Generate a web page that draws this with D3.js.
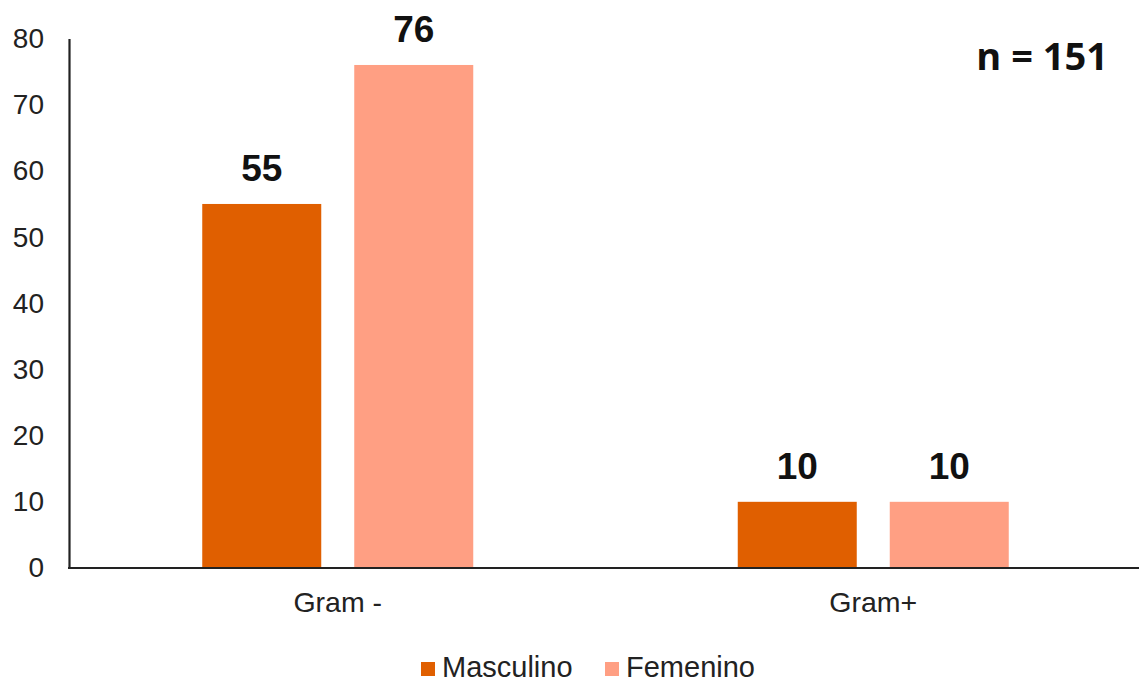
<!DOCTYPE html>
<html>
<head>
<meta charset="utf-8">
<script src="https://cdn.jsdelivr.net/npm/d3@7"></script>
<style>
  html, body { margin: 0; padding: 0; background: #fff; }
  svg { display: block; }
</style>
</head>
<body>
<svg id="chart" width="1139" height="682"></svg>
<script>
// Bacterial isolates by Gram type and sex
const categories = ["Gram -", "Gram+"];
const series = ["Masculino", "Femenino"];
const masculino = [55, 10];
const femenino = [76, 10];
const yTicks = [0, 10, 20, 30, 40, 50, 60, 70, 80];
const totalLabel = "n = 151";

const colors = { Masculino: "#E05F00", Femenino: "#FF9F83" };
const values = { Masculino: masculino, Femenino: femenino };

const svg = d3.select("#chart");
const width = 1139, height = 682;
const margin = { left: 69, right: 0, top: 38.5, bottom: 114 };
const baseY = height - margin.bottom; // 568

const x0 = d3.scaleBand().domain(categories).range([70, 1141]).padding(0);
const groupW = 271;
const x1 = d3.scaleBand().domain(series)
  .range([(x0.bandwidth() - groupW) / 2, (x0.bandwidth() + groupW) / 2])
  .paddingInner(0.2171).paddingOuter(0);

const y = d3.scaleLinear().domain([0, 80]).range([baseY, margin.top]);

// Bars
const groups = svg.append("g").selectAll("g")
  .data(categories)
  .join("g")
  .attr("transform", d => `translate(${x0(d)},0)`);

groups.selectAll("rect")
  .data((c, i) => series.map(s => ({ s, v: values[s][i] })))
  .join("rect")
  .attr("x", d => x1(d.s))
  .attr("y", d => y(d.v))
  .attr("width", x1.bandwidth())
  .attr("height", d => y(0) - y(d.v))
  .attr("fill", d => colors[d.s]);

// Value labels
groups.selectAll("text")
  .data((c, i) => series.map(s => ({ s, v: values[s][i] })))
  .join("text")
  .attr("x", d => x1(d.s) + x1.bandwidth() / 2)
  .attr("y", d => y(d.v) - 23)
  .attr("text-anchor", "middle")
  .attr("font-family", "'Liberation Sans', Arial, sans-serif")
  .attr("font-weight", "bold")
  .attr("font-size", 37)
  .attr("fill", "#111")
  .text(d => d.v);

// Y axis
const yAxis = svg.append("g")
  .attr("transform", `translate(${margin.left},0)`)
  .call(d3.axisLeft(y).tickValues(yTicks).tickSize(0).tickSizeOuter(0).tickPadding(25));
yAxis.select(".domain").attr("stroke", "#222").attr("stroke-width", 2.2);
yAxis.selectAll("text")
  .attr("font-family", "'Liberation Sans', Arial, sans-serif")
  .attr("font-size", 28)
  .attr("fill", "#222");

// X axis
const xAxis = svg.append("g")
  .attr("transform", `translate(0,${baseY})`)
  .call(d3.axisBottom(x0).tickSize(0).tickSizeOuter(0).tickPadding(24));
xAxis.select(".domain").attr("stroke", "#222").attr("stroke-width", 2.2)
  .attr("d", `M${margin.left - 1},0H${width}`);
xAxis.selectAll("text")
  .attr("font-family", "'Liberation Sans', Arial, sans-serif")
  .attr("font-size", 28.5)
  .attr("fill", "#222");

// Total count
svg.append("text")
  .attr("x", 1108)
  .attr("y", 70)
  .attr("text-anchor", "end")
  .attr("font-family", "'Open Sans', sans-serif")
  .attr("font-weight", "bold")
  .attr("font-size", 38)
  .attr("fill", "#111")
  .text(totalLabel);

// Legend
const legendX = [421, 605];
const legend = svg.append("g").selectAll("g")
  .data(series)
  .join("g")
  .attr("transform", (d, i) => `translate(${legendX[i]},662)`);
legend.append("rect")
  .attr("width", 14).attr("height", 14)
  .attr("fill", d => colors[d]);
legend.append("text")
  .attr("x", 21)
  .attr("y", 15)
  .attr("font-family", "'Liberation Sans', Arial, sans-serif")
  .attr("font-size", 29)
  .attr("fill", "#222")
  .text(d => d);
</script>
</body>
</html>
